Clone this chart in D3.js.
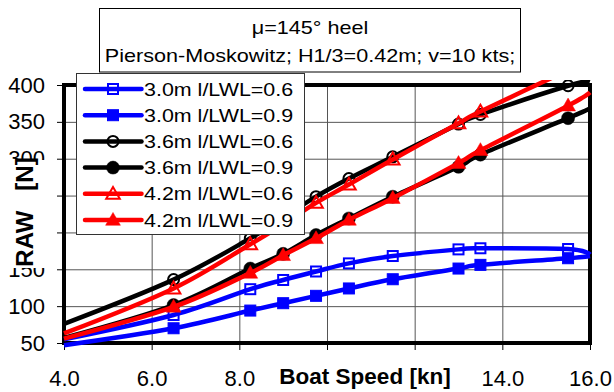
<!DOCTYPE html>
<html>
<head>
<meta charset="utf-8">
<script src="https://cdn.jsdelivr.net/npm/d3@7"></script>
<style>
  html, body { margin: 0; padding: 0; background: #fff; }
  svg { display: block; }
  text { font-family: "Liberation Sans", Arial, sans-serif; }
</style>
</head>
<body>
<svg id="chart" width="614" height="392"></svg>
<script>
// ---------- data ----------
const speeds = [4.0, 6.5, 8.25, 9.0, 9.75, 10.5, 11.5, 13.0, 13.5, 15.5, 16.0];
const raw_30_06 = [55, 88, 123, 135.5, 147, 158, 168, 177, 178.5, 177.5, 170];
const raw_30_09 = [47, 70, 94, 104, 114, 124, 136.5, 151, 156, 165, 168];
const raw_36_06 = [76, 136, 192, 220, 248.5, 273, 302.5, 347, 360, 399, 405];
const raw_36_09 = [57, 101.5, 151, 171, 196.5, 219, 248.5, 289, 305.5, 355, 368];
const raw_42_06 = [63, 124, 184, 211, 240, 265, 299, 348, 364, 420, 432];
const raw_42_09 = [56, 99, 145, 169, 192, 217, 246.5, 294, 311.5, 372, 390];

const seriesNames = ["3.0m l/LWL=0.6", "3.0m l/LWL=0.9", "3.6m l/LWL=0.6",
                     "3.6m l/LWL=0.9", "4.2m l/LWL=0.6", "4.2m l/LWL=0.9"];
const seriesValues = [raw_30_06, raw_30_09, raw_36_06, raw_36_09, raw_42_06, raw_42_09];
const seriesColors = ["#0000ff", "#0000ff", "#000000", "#000000", "#ff0000", "#ff0000"];
const seriesMarkers = ["square", "square", "circle", "circle", "triangle", "triangle"];
const seriesFilled = [false, true, false, true, false, true];

const xTicks = [4, 6, 8, 10, 12, 14, 16];
// 10.0 and 12.0 are hidden under the axis title in the reference
const xTickLabels = ["4.0", "6.0", "8.0", "", "", "14.0", "16.0"];
const yTicks = [50, 100, 150, 200, 250, 300, 350, 400];
const titleLines = ["\u03bc=145\u00b0 heel", "Pierson-Moskowitz; H1/3=0.42m; v=10 kts;"];
const xTitle = "Boat Speed [kn]";
const yTitle = "RAW   [N]";

// ---------- layout ----------
const svg = d3.select("#chart");
const P = { l: 64, r: 590, t: 85, b: 343 };
const x = d3.scaleLinear().domain([4, 16]).range([P.l, P.r]);
const y = d3.scaleLinear().domain([50, 400]).range([P.b, P.t]);

// grid
const grid = svg.append("g");
grid.append("g").attr("transform", `translate(0,${P.b})`)
  .call(d3.axisBottom(x).tickValues(xTicks).tickSize(-(P.b - P.t)).tickFormat(""))
  .call(g => g.select(".domain").remove())
  .call(g => g.selectAll("line").attr("stroke", "#555").attr("stroke-width", 1));
grid.append("g").attr("transform", `translate(${P.l},0)`)
  .call(d3.axisLeft(y).tickValues(yTicks).tickSize(-(P.r - P.l)).tickFormat(""))
  .call(g => g.select(".domain").remove())
  .call(g => g.selectAll("line").attr("stroke", "#555").attr("stroke-width", 1));

// axes (ticks + labels)
svg.append("g").attr("transform", `translate(0,${P.b})`)
  .call(d3.axisBottom(x).tickValues(xTicks).tickFormat((d, i) => xTickLabels[i]).tickSize(7).tickPadding(20))
  .call(g => g.select(".domain").remove())
  .call(g => g.selectAll("line").attr("stroke", "#000").attr("stroke-width", 1))
  .call(g => g.selectAll("text").attr("font-size", 22).attr("fill", "#000")
    .attr("font-family", "Liberation Sans, Arial, sans-serif"))
  .call(g => g.selectAll("text").filter(function () { return this.textContent === ""; }).remove());
svg.append("g").attr("transform", `translate(${P.l},0)`)
  .call(d3.axisLeft(y).tickValues(yTicks).tickSize(7).tickPadding(12))
  .call(g => g.select(".domain").remove())
  .call(g => g.selectAll("line").attr("stroke", "#000").attr("stroke-width", 1))
  .call(g => g.selectAll("text").attr("font-size", 22).attr("fill", "#000")
    .attr("font-family", "Liberation Sans, Arial, sans-serif"));

// plot border
svg.append("rect").attr("x", P.l).attr("y", P.t)
  .attr("width", P.r - P.l).attr("height", P.b - P.t)
  .attr("fill", "none").attr("stroke", "#000").attr("stroke-width", 4);

// series
const clipPad = 5;
svg.append("clipPath").attr("id", "plotclip").append("rect")
  .attr("x", P.l - clipPad).attr("y", P.t - clipPad)
  .attr("width", P.r - P.l + 2 * clipPad).attr("height", P.b - P.t + 2 * clipPad);

const line = d3.line().x(d => x(d[0])).y(d => y(d[1])).curve(d3.curveCardinal.tension(0));

function drawMarker(g, type, filled, color, cx, cy) {
  if (type === "square") {
    const s = filled ? 11 : 10;
    g.append("rect").attr("x", cx - s / 2).attr("y", cy - s / 2).attr("width", s).attr("height", s)
      .attr("fill", filled ? color : "none").attr("stroke", color).attr("stroke-width", filled ? 1 : 2);
  } else if (type === "circle") {
    g.append("circle").attr("cx", cx).attr("cy", cy).attr("r", filled ? 6.5 : 5.5)
      .attr("fill", filled ? color : "none").attr("stroke", color).attr("stroke-width", filled ? 0.5 : 2);
  } else {
    const sym = d3.symbol().type(d3.symbolTriangle).size(filled ? 95 : 80);
    g.append("path").attr("d", sym()).attr("transform", `translate(${cx},${cy + 1})`)
      .attr("fill", filled ? color : "none").attr("stroke", color).attr("stroke-width", filled ? 0.5 : 2);
  }
}

const plot = svg.append("g").attr("clip-path", "url(#plotclip)");
seriesValues.forEach((vals, i) => {
  const pts = speeds.map((s, j) => [s, vals[j]]);
  const g = plot.append("g");
  g.append("path").attr("d", line(pts)).attr("fill", "none")
    .attr("stroke", seriesColors[i]).attr("stroke-width", 4.5)
    .attr("stroke-linejoin", "round");
  pts.filter(p => p[0] > 4 && p[0] < 16).forEach(p => {
    drawMarker(g, seriesMarkers[i], seriesFilled[i], seriesColors[i], x(p[0]), y(p[1]));
  });
});

// y axis title with white background
svg.append("rect").attr("x", 0).attr("y", 160).attr("width", 52).attr("height", 108).attr("fill", "#fff");
svg.append("text").attr("transform", "translate(33,212) rotate(-90)")
  .attr("text-anchor", "middle").attr("font-size", 24).attr("font-weight", "bold")
  .style("white-space", "pre").attr("fill", "#000").text(yTitle);

// x axis title with white background
svg.append("rect").attr("x", 272).attr("y", 358).attr("width", 186).attr("height", 34).attr("fill", "#fff");
svg.append("text").attr("x", 365).attr("y", 384).attr("text-anchor", "middle")
  .attr("font-size", 22.5).attr("font-weight", "bold").attr("fill", "#000").text(xTitle);

// title box
svg.append("rect").attr("x", 99.5).attr("y", 8.5).attr("width", 421).attr("height", 63.5)
  .attr("fill", "#fff").attr("stroke", "#000").attr("stroke-width", 1);
titleLines.forEach((t, i) => {
  svg.append("text").attr("transform", `translate(310,${34 + i * 28}) scale(1.2,1)`)
    .attr("text-anchor", "middle").attr("font-size", 18).attr("fill", "#000").text(t);
});

// legend
const L = { x: 76.5, y: 73.5, w: 228, h: 161, row0: 89, step: 26.2 };
const leg = svg.append("g");
leg.append("rect").attr("x", L.x).attr("y", L.y).attr("width", L.w).attr("height", L.h)
  .attr("fill", "#fff").attr("stroke", "#333").attr("stroke-width", 1);
seriesNames.forEach((name, i) => {
  const cy = L.row0 + i * L.step;
  const g = leg.append("g");
  g.append("line").attr("x1", 85).attr("x2", 141.5).attr("y1", cy).attr("y2", cy)
    .attr("stroke", seriesColors[i]).attr("stroke-width", 4.5).attr("stroke-linecap", "round");
  drawMarker(g, seriesMarkers[i], seriesFilled[i], seriesColors[i], 113, cy);
  g.append("text").attr("transform", `translate(144,${cy + 6.5}) scale(1.16,1)`)
    .attr("font-size", 18.5).attr("fill", "#000").text(name);
});
</script>
</body>
</html>
